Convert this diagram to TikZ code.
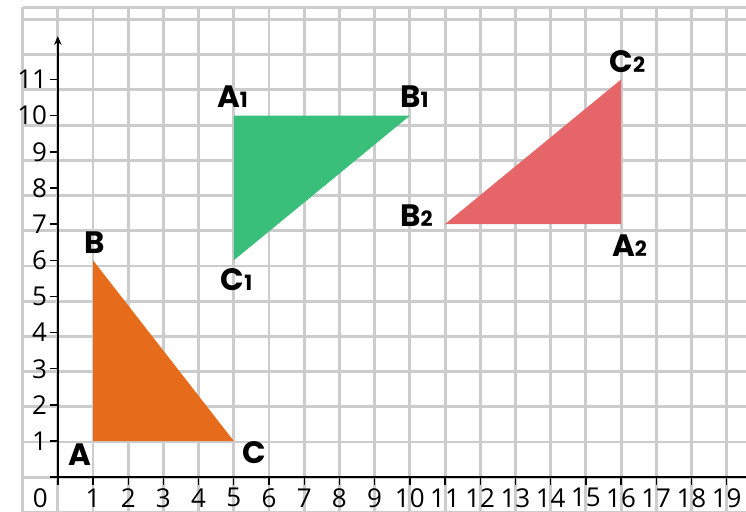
\documentclass[tikz,border=0pt]{standalone}
\usepackage{fontspec}
\setmainfont{Open Sans}
\newfontfamily\vfont{Poppins}
\usetikzlibrary{arrows.meta}
\definecolor{triorange}{RGB}{230,107,26}
\definecolor{trigreen}{RGB}{58,191,123}
\definecolor{trired}{RGB}{229,101,104}
\definecolor{gridgray}{RGB}{204,204,204}
\newcommand{\sbs}[1]{{\fontsize{17}{17}\selectfont #1}}
\tikzset{
  gridline/.style={draw=gridgray, line width=2.4pt},
  axisline/.style={draw=black, line width=1.3pt},
  tickline/.style={draw=black, line width=1.1pt},
  ticklab/.style={font=\fontsize{21}{21}\selectfont, inner sep=0pt},
  vlab/.style={font=\vfont\bfseries\fontsize{25}{25}\selectfont, inner sep=0pt, anchor=center},
}
\begin{document}
\begin{tikzpicture}[x=1cm,y=1.027cm]
\useasboundingbox (-1.642,-0.96) rectangle (19.55,13.2);
\begin{scope}
\clip (-1.642,-0.96) rectangle (19.55,13.2);
\draw[gridline] (-1,-1) grid (19.6,13);
\draw[gridline] (-1,13) -- (19.6,13);
\end{scope}
% triangles
\fill[triorange] (1,1) coordinate (A) -- (1,6) coordinate (B) -- (5,1) coordinate (C) -- cycle;
\fill[trigreen] (5,10) coordinate (A1) -- (10,10) coordinate (B1) -- (5,6) coordinate (C1) -- cycle;
\fill[trired] (16,7) coordinate (A2) -- (11,7) coordinate (B2) -- (16,11) coordinate (C2) -- cycle;
% axes
\coordinate (O) at (0,0);
\coordinate (xend) at (19.6,0);
\coordinate (yend) at (0,12.2);
\coordinate (xstart) at (-0.22,0);
\coordinate (ystart) at (0,-0.22);
\draw[axisline] (xstart) -- (xend);
\draw[axisline, -{Stealth[length=7pt,width=6pt]}] (ystart) -- (yend);
\foreach \i in {1,...,19} {
  \coordinate (xt\i) at (\i,0);
  \draw[tickline] (xt\i) -- ++(0,-0.22);
  \node[ticklab] (xl\i) at (\i,-0.57) {\i};
}
\foreach \j in {1,...,11} {
  \coordinate (yt\j) at (0,\j);
  \draw[tickline] (yt\j) -- ++(-0.22,0);
  \node[ticklab, anchor=east] (yl\j) at (-0.3,\j) {\j};
}
\node[ticklab] (zero) at (-0.5,-0.57) {0};
% vertex labels
\node[vlab] (lA) at (0.63,0.62) {A};
\node[vlab] (lB) at (1.06,6.50) {B};
\node[vlab] (lC) at (5.57,0.69) {C};
\node[vlab] (lA1) at (4.96,10.52) {A\sbs{1}};
\node[vlab] (lB1) at (10.13,10.52) {B\sbs{1}};
\node[vlab] (lC1) at (5.08,5.46) {C\sbs{1}};
\node[vlab] (lA2) at (16.24,6.40) {A\sbs{2}};
\node[vlab] (lB2) at (10.19,7.23) {B\sbs{2}};
\node[vlab] (lC2) at (16.18,11.49) {C\sbs{2}};
\end{tikzpicture}
\end{document}
